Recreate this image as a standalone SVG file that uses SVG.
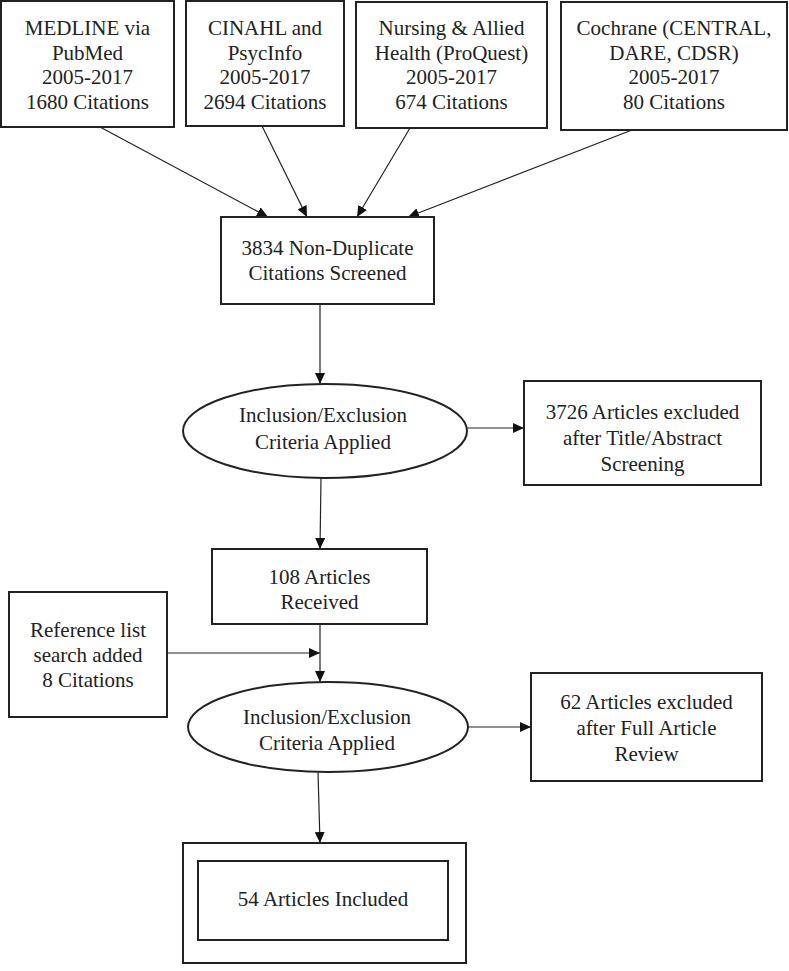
<svg xmlns="http://www.w3.org/2000/svg" width="789" height="971" viewBox="0 0 789 971">
<style>
.box{fill:#fff;stroke:#222;stroke-width:2}
.t{font-family:"Liberation Serif","Times New Roman",serif;font-size:21px;fill:#222;text-anchor:middle}
.c{stroke:#222;stroke-width:1.2;fill:none;marker-end:url(#ah)}
.n{stroke:#222;stroke-width:1.2;fill:none}
</style>
<defs>
<marker id="ah" markerUnits="userSpaceOnUse" markerWidth="12" markerHeight="10" refX="11" refY="5" orient="auto">
<path d="M0,0 L11,5 L0,10 z" fill="#111"/>
</marker>
</defs>
<rect width="789" height="971" fill="#fff"/>
<g id="connectors">
<line class="c" x1="100" y1="127" x2="268" y2="217"/>
<line class="c" x1="262" y1="126" x2="307" y2="217"/>
<line class="c" x1="410" y1="128" x2="357" y2="217"/>
<line class="c" x1="632" y1="130" x2="408" y2="217"/>
<line class="c" x1="320" y1="304" x2="320" y2="384"/>
<line class="c" x1="467" y1="428" x2="524" y2="428"/>
<line class="c" x1="321" y1="478" x2="320" y2="549"/>
<line class="c" x1="167" y1="653" x2="320" y2="653"/>
<line class="c" x1="320" y1="624" x2="320" y2="682"/>
<line class="c" x1="468" y1="727" x2="531" y2="727"/>
<line class="c" x1="318" y1="772" x2="320" y2="843"/>
</g>
<g id="medline">
<rect class="box" x="1" y="1" width="173" height="126"/>
<text class="t" x="87.5" y="35">MEDLINE via</text>
<text class="t" x="87.5" y="60">PubMed</text>
<text class="t" x="87.5" y="84">2005-2017</text>
<text class="t" x="87.5" y="109">1680 Citations</text>
</g>
<g id="cinahl">
<rect class="box" x="186" y="1" width="158" height="125"/>
<text class="t" x="265" y="35">CINAHL and</text>
<text class="t" x="265" y="60">PsycInfo</text>
<text class="t" x="265" y="84">2005-2017</text>
<text class="t" x="265" y="109">2694 Citations</text>
</g>
<g id="nursing">
<rect class="box" x="356" y="2" width="191" height="126"/>
<text class="t" x="451.5" y="35">Nursing &amp; Allied</text>
<text class="t" x="451.5" y="60">Health (ProQuest)</text>
<text class="t" x="451.5" y="84">2005-2017</text>
<text class="t" x="451.5" y="109">674 Citations</text>
</g>
<g id="cochrane">
<rect class="box" x="561" y="2" width="226" height="128"/>
<text class="t" x="674" y="35">Cochrane (CENTRAL,</text>
<text class="t" x="674" y="60">DARE, CDSR)</text>
<text class="t" x="674" y="84">2005-2017</text>
<text class="t" x="674" y="109">80 Citations</text>
</g>
<g id="nondup">
<rect class="box" x="221" y="217" width="213" height="87"/>
<text class="t" x="327.5" y="255">3834 Non-Duplicate</text>
<text class="t" x="327.5" y="280">Citations Screened</text>
</g>
<g id="criteria1">
<ellipse class="box" cx="325" cy="431" rx="142" ry="47"/>
<text class="t" x="323" y="422">Inclusion/Exclusion</text>
<text class="t" x="323" y="449">Criteria Applied</text>
</g>
<g id="excluded1">
<rect class="box" x="524" y="381" width="237" height="104"/>
<text class="t" x="642.5" y="419">3726 Articles excluded</text>
<text class="t" x="642.5" y="445">after Title/Abstract</text>
<text class="t" x="642.5" y="471">Screening</text>
</g>
<g id="received">
<rect class="box" x="212" y="549" width="215" height="75"/>
<text class="t" x="319.5" y="584">108 Articles</text>
<text class="t" x="319.5" y="609">Received</text>
</g>
<g id="reflist">
<rect class="box" x="9" y="592" width="158" height="125"/>
<text class="t" x="88" y="637">Reference list</text>
<text class="t" x="88" y="662">search added</text>
<text class="t" x="88" y="687">8 Citations</text>
</g>
<g id="criteria2">
<ellipse class="box" cx="328" cy="727" rx="140" ry="45"/>
<text class="t" x="327" y="724">Inclusion/Exclusion</text>
<text class="t" x="327" y="750">Criteria Applied</text>
</g>
<g id="excluded2">
<rect class="box" x="531" y="673" width="231" height="108"/>
<text class="t" x="646.5" y="709">62 Articles excluded</text>
<text class="t" x="646.5" y="735">after Full Article</text>
<text class="t" x="646.5" y="761">Review</text>
</g>
<g id="included">
<rect class="box" x="183" y="843" width="283" height="120"/>
<rect class="box" x="198" y="861" width="250" height="79"/>
<text class="t" x="323" y="906">54 Articles Included</text>
</g>
</svg>
